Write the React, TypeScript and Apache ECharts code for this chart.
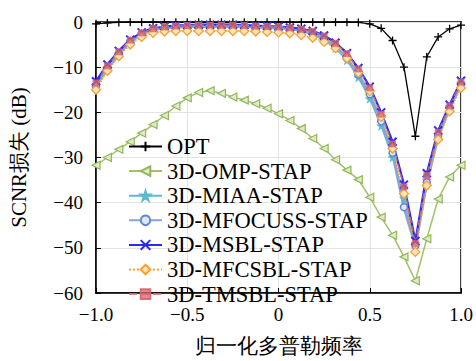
import React, { useEffect, useRef } from "react";
import * as echarts from "echarts";

const FREQ = [-1, -0.9375, -0.875, -0.8125, -0.75, -0.6875, -0.625, -0.5625, -0.5, -0.4375, -0.375, -0.3125, -0.25, -0.1875, -0.125, -0.0625, 0, 0.0625, 0.125, 0.1875, 0.25, 0.3125, 0.375, 0.4375, 0.5, 0.5625, 0.625, 0.6875, 0.75, 0.8125, 0.875, 0.9375, 1];

const OPT = [-0.4, -0.2, -0.1, -0.05, -0.05, -0.05, -0.05, -0.05, -0.05, -0.05, -0.05, -0.05, -0.05, -0.05, -0.05, -0.05, -0.05, -0.05, -0.05, -0.05, -0.05, -0.05, -0.05, -0.1, -0.4, -1.4, -4.1, -10.0, -25.3, -7.7, -3.3, -1.5, -0.7];
const OMP = [-31.7, -30.0, -28.2, -26.5, -24.6, -22.7, -20.7, -18.6, -16.8, -15.6, -15.2, -15.8, -16.6, -17.3, -18.1, -19.1, -20.3, -21.8, -23.6, -25.8, -28.0, -30.5, -32.8, -34.9, -38.8, -43.2, -47.2, -52.0, -57.3, -48.0, -39.2, -34.3, -31.7];
const MIAA = [-14.0, -10.2, -7.0, -4.3, -2.6, -1.6, -1.2, -1.0, -1.0, -1.0, -1.0, -1.0, -1.0, -1.0, -1.1, -1.1, -1.3, -1.6, -2.0, -2.8, -4.0, -5.8, -8.5, -12.3, -17.0, -23.0, -30.0, -39.0, -49.0, -35.0, -25.0, -18.8, -13.5];
const MFOCUSS = [-14.2, -10.3, -7.1, -4.4, -2.7, -1.7, -1.3, -1.1, -1.0, -1.0, -1.0, -1.0, -1.0, -1.0, -1.1, -1.2, -1.3, -1.5, -1.9, -2.6, -3.7, -5.4, -8.0, -11.6, -16.0, -22.0, -29.0, -41.0, -49.5, -35.5, -25.2, -19.0, -13.8];
const MSBL = [-13.1, -9.4, -6.4, -3.9, -2.3, -1.4, -1.0, -0.8, -0.7, -0.6, -0.6, -0.6, -0.6, -0.7, -0.8, -0.9, -1.0, -1.2, -1.5, -2.0, -3.0, -4.6, -6.9, -10.2, -14.3, -20.0, -26.5, -36.0, -48.5, -33.5, -24.0, -18.3, -13.0];
const MFCSBL = [-15.0, -10.8, -7.6, -5.0, -3.3, -2.4, -2.1, -2.0, -2.0, -2.0, -2.0, -2.0, -2.0, -2.0, -2.1, -2.2, -2.3, -2.5, -2.9, -3.5, -4.4, -5.8, -8.0, -11.2, -15.3, -21.0, -28.0, -38.0, -50.9, -36.2, -26.0, -19.8, -14.6];
const TMSBL = [-13.5, -9.7, -6.6, -4.0, -2.4, -1.5, -1.1, -0.9, -0.8, -0.7, -0.7, -0.7, -0.7, -0.8, -0.9, -1.0, -1.1, -1.3, -1.6, -2.1, -3.1, -4.7, -7.0, -10.4, -14.6, -20.4, -27.0, -36.5, -49.0, -34.0, -24.4, -18.6, -13.3];

const NAMES = ["OPT", "3D-OMP-STAP", "3D-MIAA-STAP", "3D-MFOCUSS-STAP", "3D-MSBL-STAP", "3D-MFCSBL-STAP", "3D-TMSBL-STAP"];

const SERIF = "Times New Roman";

const PLUS = "path://M5,0 L5,10 M0,5 L10,5";
const CROSS = "path://M0,0 L10,10 M10,0 L0,10";
const STAR = "path://M50,0 L61,35 L98,35 L68,57 L79,91 L50,70 L21,91 L32,57 L2,35 L39,35 Z";

function pairs(ys: number[]) {
  return FREQ.map((x, i) => [x, ys[i]]);
}

function fmtMinus(s: string) {
  return s.replace("-", "\u2212");
}

export default function App() {
  const ref = useRef<HTMLDivElement>(null);
  useEffect(() => {
    if (!ref.current) return;
    const chart = echarts.init(ref.current, undefined, { renderer: "svg" });
    const base = { type: "line", clip: false, z: 3 };
    chart.setOption({
      animation: false,
      backgroundColor: "#fff",
      textStyle: { fontFamily: SERIF, fontWeight: "normal" },
      grid: { left: 94, top: 22, right: 15, bottom: 64, show: true, borderColor: "#000", borderWidth: 1.5, backgroundColor: "transparent" },
      legend: {
        orient: "vertical",
        left: 128,
        top: 135,
        itemWidth: 33,
        itemHeight: 12,
        itemGap: 1.6,
        padding: 0,
        textStyle: { fontFamily: SERIF, fontWeight: "normal", fontSize: 22.5, color: "#000" },
        data: NAMES,
      },
      xAxis: {
        type: "value",
        min: -1,
        max: 1,
        interval: 0.5,
        name: "归一化多普勒频率",
        nameLocation: "middle",
        nameGap: 42,
        nameTextStyle: { fontFamily: SERIF, fontSize: 21, color: "#000" },
        axisLine: { show: true, onZero: false, lineStyle: { color: "#000", width: 1.5 } },
        axisTick: { show: true, inside: true, length: 5, lineStyle: { color: "#000" } },
        axisLabel: {
          fontFamily: SERIF, fontSize: 19, color: "#000", margin: 12,
          formatter: (v: number) => (v === 0 ? "0" : fmtMinus(v.toFixed(1))),
        },
        splitLine: { show: true, lineStyle: { color: "#e3e3e3", width: 1 } },
      },
      yAxis: {
        type: "value",
        min: -60,
        max: 0,
        interval: 10,
        name: "SCNR损失 (dB)",
        nameLocation: "middle",
        nameGap: 67,
        nameRotate: 90,
        nameTextStyle: { fontFamily: SERIF, fontSize: 21, color: "#000" },
        axisLine: { show: true, onZero: false, lineStyle: { color: "#000", width: 1.5 } },
        axisTick: { show: true, inside: true, length: 5, lineStyle: { color: "#000" } },
        axisLabel: {
          fontFamily: SERIF, fontSize: 19, color: "#000", margin: 13,
          formatter: (v: number) => fmtMinus(String(v)),
        },
        splitLine: { show: true, lineStyle: { color: "#e3e3e3", width: 1 } },
      },
      series: [
        {
          ...base, name: NAMES[0], data: pairs(OPT),
          symbol: PLUS, symbolSize: 8,
          lineStyle: { color: "#000", width: 1.3 },
          itemStyle: { color: "#000", borderColor: "#000", borderWidth: 1.3 },
        },
        {
          ...base, name: NAMES[1], data: pairs(OMP),
          symbol: "triangle", symbolRotate: 90, symbolSize: 8,
          lineStyle: { color: "#a3c26a", width: 1.5 },
          itemStyle: { color: "#dfeacb", borderColor: "#93b65a", borderWidth: 1.2 },
        },
        {
          ...base, name: NAMES[2], data: pairs(MIAA),
          symbol: STAR, symbolSize: 9,
          lineStyle: { color: "#5bbad2", width: 1.5 },
          itemStyle: { color: "#5bbad2", borderColor: "#5bbad2", borderWidth: 0.5 },
        },
        {
          ...base, name: NAMES[3], data: pairs(MFOCUSS),
          symbol: "circle", symbolSize: 7,
          lineStyle: { color: "#85a6d6", width: 3 },
          itemStyle: { color: "#dce6f5", borderColor: "#5f87c8", borderWidth: 1.5 },
        },
        {
          ...base, name: NAMES[4], data: pairs(MSBL),
          symbol: CROSS, symbolSize: 8,
          lineStyle: { color: "#2a2af0", width: 2.2 },
          itemStyle: { color: "#2a2af0", borderColor: "#2a2af0", borderWidth: 2 },
        },
        {
          ...base, name: NAMES[5], data: pairs(MFCSBL),
          symbol: "diamond", symbolSize: 9,
          lineStyle: { color: "#f5a233", width: 1.5, type: "dotted" },
          itemStyle: { color: "#fde3b8", borderColor: "#f5a233", borderWidth: 1.3 },
        },
        {
          ...base, name: NAMES[6], data: pairs(TMSBL),
          symbol: "rect", symbolSize: 6,
          lineStyle: { color: "#d96f6f", width: 1.5, type: "dashed", opacity: 0.85 },
          itemStyle: { color: "rgba(214,100,110,0.75)", borderColor: "rgba(214,100,110,0.9)", borderWidth: 0.8 },
        },
      ],
    });
    return () => chart.dispose();
  }, []);
  return <div ref={ref} style={{ position: "fixed", left: 0, top: 0, width: 476, height: 361 }} />;
}
